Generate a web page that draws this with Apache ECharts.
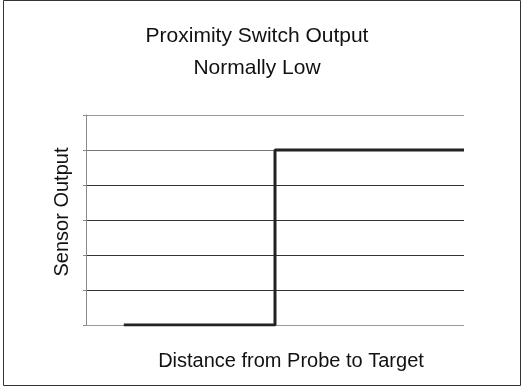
<!DOCTYPE html>
<html>
<head>
<meta charset="utf-8">
<script src="https://cdn.jsdelivr.net/npm/echarts@6/dist/echarts.min.js"></script>
<style>
    html, body { margin: 0; padding: 0; background: #fff; }
    #chart { width: 526px; height: 387px; }
</style>
</head>
<body>
<div id="chart"></div>
<script>
    // distance steps along the x axis and the switch output at each
    var distance = [1, 2, 3, 4, 5, 5, 6, 7, 8, 9, 10];
    var output = [0, 0, 0, 0, 0, 5, 5, 5, 5, 5, 5];
    var titleLines = ['Proximity Switch Output', 'Normally Low'];

    var chart = echarts.init(document.getElementById('chart'));

    var points = distance.map(function (d, i) { return [d, output[i]]; });

    var option = {
        animation: false,
        title: {
            text: titleLines.join('\n'),
            left: 252,
            top: 15,
            textAlign: 'center',
            textStyle: {
                fontFamily: 'Liberation Sans',
                fontWeight: 'normal',
                fontSize: 21,
                lineHeight: 32,
                color: '#111'
            }
        },
        grid: { left: 86, right: 62, top: 115, bottom: 62 },
        xAxis: {
            type: 'value',
            min: 0, max: 10,
            name: 'Distance from Probe to Target',
            nameLocation: 'middle',
            nameGap: 26,
            nameTextStyle: { fontFamily: 'Liberation Sans', fontSize: 20, color: '#111', padding: [0, 0, 0, 32] },
            axisLine: { show: false },
            axisTick: { show: false },
            axisLabel: { show: false },
            splitLine: { show: false }
        },
        yAxis: {
            type: 'value',
            min: 0, max: 6, interval: 1,
            name: 'Sensor Output',
            nameLocation: 'middle',
            nameGap: 14,
            nameTextStyle: { fontFamily: 'Liberation Sans', fontSize: 20, color: '#111', padding: [0, 0, 0, 16] },
            axisLine: { show: true, lineStyle: { color: '#888', width: 1 } },
            axisTick: { show: true, length: 3, lineStyle: { color: '#888' } },
            axisLabel: { show: false },
            splitLine: {
                show: true,
                lineStyle: { color: ['#999', '#333', '#333', '#333', '#333', '#777', '#999'], width: 1 }
            }
        },
        series: [{
            type: 'line',
            data: points,
            showSymbol: false,
            lineStyle: { color: '#222', width: 3 },
            silent: true
        }],
        graphic: [{
            type: 'rect',
            shape: { x: 3.5, y: 0.5, width: 517, height: 385 },
            style: { fill: 'none', stroke: '#333', lineWidth: 1 }
        }]
    };

    chart.setOption(option);
</script>
</body>
</html>
